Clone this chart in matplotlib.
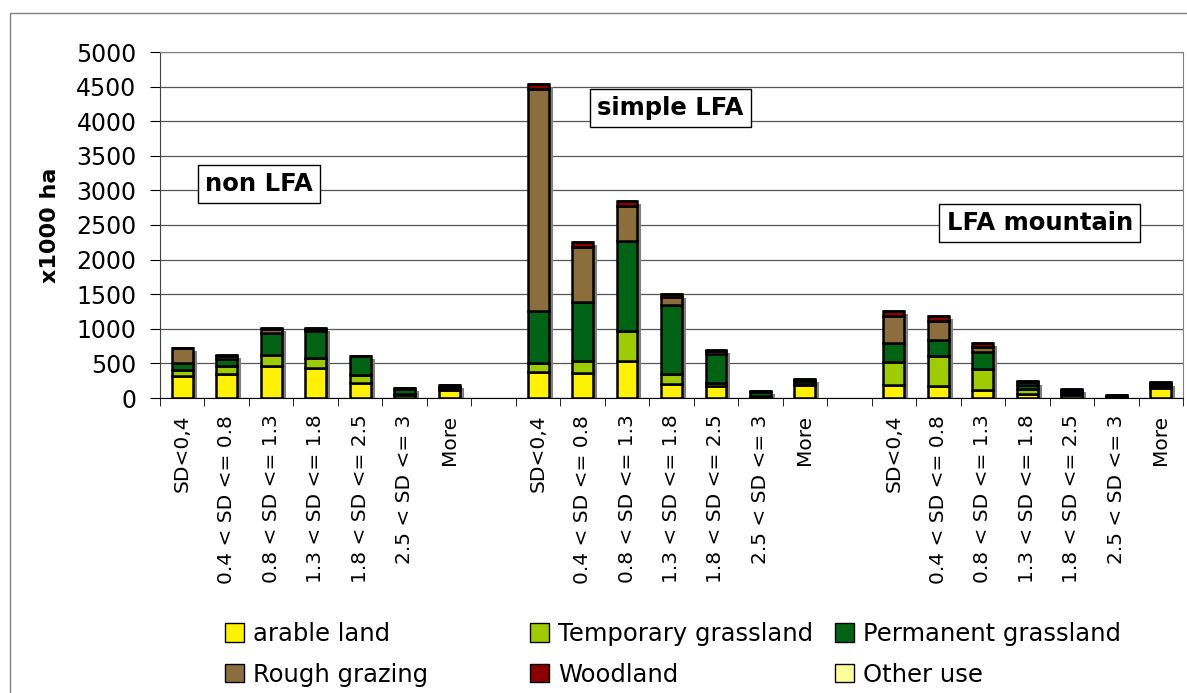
import numpy as np
import matplotlib
matplotlib.use("Agg")
import matplotlib.pyplot as plt
from matplotlib.patches import Patch, Rectangle

# categories (SD classes) repeated in three zones
classes = ["SD<0,4", "0.4 < SD <= 0.8", "0.8 < SD <= 1.3", "1.3 < SD <= 1.8",
           "1.8 < SD <= 2.5", "2.5 < SD <= 3", "More"]
zones = ["non LFA", "simple LFA", "LFA mountain"]

# x1000 ha
arable_non = [325, 354, 466, 427, 218, 44, 116]
temp_non = [82, 107, 150, 145, 112, 20, 10]
perm_non = [97, 106, 330, 393, 271, 67, 30]
rough_non = [214, 40, 52, 34, 10, 12, 25]
wood_non = [5, 13, 15, 10, 0, 7, 8]

arable_simple = [372, 357, 531, 203, 174, 20, 193]
temp_simple = [130, 184, 430, 145, 43, 15, 15]
perm_simple = [754, 845, 1304, 995, 421, 50, 40]
rough_simple = [3212, 797, 507, 116, 38, 15, 15]
wood_simple = [67, 73, 78, 38, 24, 6, 7]

arable_mount = [190, 176, 122, 54, 39, 10, 151]
temp_mount = [337, 434, 303, 73, 39, 10, 20]
perm_mount = [273, 224, 239, 63, 24, 10, 25]
rough_mount = [391, 283, 73, 35, 15, 8, 20]
wood_mount = [68, 74, 58, 14, 10, 6, 8]

other_use = [0, 0, 0, 0, 0, 0, 0]

series_names = ["arable land", "Temporary grassland", "Permanent grassland",
                "Rough grazing", "Woodland", "Other use"]
colors = ["#FFF200", "#9FCC00", "#006414", "#8C6E3C", "#8B0000", "#FFFF99"]


def with_gaps(a, b, c):
    # one empty slot between zones
    return np.array(list(a) + [np.nan] + list(b) + [np.nan] + list(c), dtype=float)


series = [
    with_gaps(arable_non, arable_simple, arable_mount),
    with_gaps(temp_non, temp_simple, temp_mount),
    with_gaps(perm_non, perm_simple, perm_mount),
    with_gaps(rough_non, rough_simple, rough_mount),
    with_gaps(wood_non, wood_simple, wood_mount),
    with_gaps(other_use, other_use, other_use),
]
labels = classes + [""] + classes + [""] + classes
x = np.arange(len(labels))
valid = ~np.isnan(series[0])

W, H = 1187, 693
fig = plt.figure(figsize=(W / 100, H / 100), dpi=100)
ax = fig.add_axes([160 / W, 1 - 398 / H, (1183 - 160) / W, (398 - 52) / H])

bw = 0.47
total = np.nansum(np.vstack(series), axis=0)

# drop shadow behind each bar
ax.bar(x[valid] + 0.09, total[valid] - 45, width=bw, color="#808080", zorder=1)

bottom = np.zeros(len(x))
for vals, c in zip(series, colors):
    ax.bar(x[valid], vals[valid], bottom=bottom[valid], width=bw, color=c,
           edgecolor="black", linewidth=1.8, zorder=2)
    bottom = bottom + np.nan_to_num(vals)

ax.set_xlim(-0.5, len(x) - 0.5)
ax.set_ylim(0, 5000)
ax.set_yticks(np.arange(0, 5001, 500))
ax.tick_params(axis="y", labelsize=17, direction="out", length=7, pad=10)
ax.yaxis.grid(True, color="#555555", linewidth=0.9)
ax.set_axisbelow(True)

ax.set_xticks(x)
ax.set_xticklabels(labels, rotation=90, fontsize=14.5, va="top", ha="center")
ax.tick_params(axis="x", which="major", length=0, pad=12)
ax.set_xticks(np.arange(-0.5, len(x)), minor=True)
ax.tick_params(axis="x", which="minor", direction="out", length=6)

ax.set_ylabel("x1000 ha", fontsize=16, fontweight="bold")
ax.yaxis.set_label_coords(-0.098, 0.5)

ax.spines["top"].set_color("#808080")
ax.spines["right"].set_color("#808080")
ax.spines["left"].set_color("#404040")
ax.spines["bottom"].set_color("black")

# zone labels
zone_pos = [(1.72, 3090), (10.98, 4190), (19.28, 2530)]
for name, (tx, ty) in zip(zones, zone_pos):
    ax.text(tx, ty, name, ha="center", va="center", fontsize=17.5,
            fontweight="bold", zorder=5,
            bbox=dict(boxstyle="square,pad=0.3", fc="white", ec="black", lw=1))

# outer chart frame
fig.add_artist(Rectangle((10 / W, -0.1), 1.2, 1 - 13 / H + 0.1,
                         transform=fig.transFigure, fill=False,
                         ec="#808080", lw=1))

# legend, laid out as three columns of two rows
handles = [Patch(facecolor=c, edgecolor="black", linewidth=1) for c in colors]
col_x = [225, 530, 835]
for i, cx in enumerate(col_x):
    idx = [i, i + 3]
    fig.legend([handles[j] for j in idx], [series_names[j] for j in idx],
               loc="upper left", bbox_to_anchor=(cx / W, 1 - 622 / H),
               frameon=False, fontsize=17.5, borderpad=0, borderaxespad=0,
               handlelength=0.8, handleheight=0.8, handletextpad=0.35,
               labelspacing=0.68)

fig.savefig("out.png", dpi=100)
